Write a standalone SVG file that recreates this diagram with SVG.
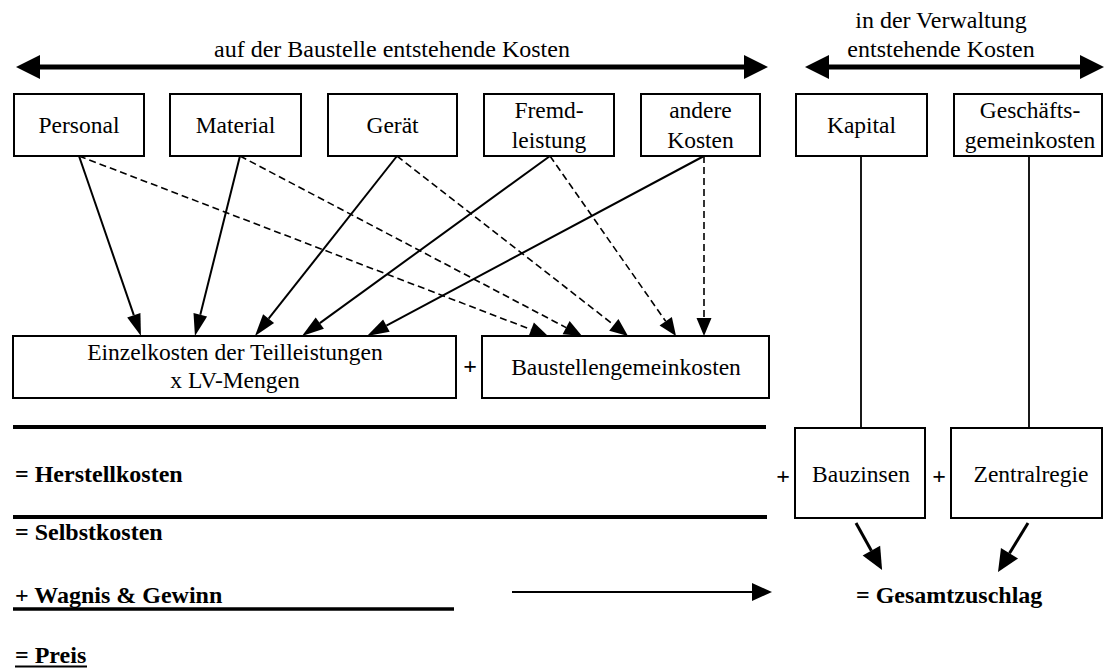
<svg xmlns="http://www.w3.org/2000/svg" width="1104" height="668" viewBox="0 0 1104 668">
  <style>
    text { font-family: "Liberation Serif", "Times New Roman", serif; fill: #000; }
    .lbl { font-size: 23.5px; text-anchor: middle; }
    .hdr { font-size: 24px; text-anchor: middle; }
    .sum { font-size: 24px; font-weight: bold; }
    .plus { font-size: 24px; font-weight: bold; text-anchor: middle; }
    .box { fill: #fff; stroke: #000; stroke-width: 2; }
    .solid { fill: none; stroke: #000; stroke-width: 2; marker-end: url(#head); }
    .dash { fill: none; stroke: #000; stroke-width: 1.6; stroke-dasharray: 7 4; marker-end: url(#headSmall); }
    .link { fill: none; stroke: #000; stroke-width: 1.8; }
    .rule { stroke: #000; stroke-width: 4; }
    .span { stroke: #000; stroke-width: 5; marker-start: url(#bigStart); marker-end: url(#big); }
    .bold-arrow { fill: none; stroke: #000; stroke-width: 3; marker-end: url(#heavy); }
  </style>
  <defs>
    <!-- arrowheads: the base sits on the line end, the tip points forward -->
    <marker id="head" markerUnits="userSpaceOnUse" orient="auto" refX="0" refY="0" overflow="visible">
      <path d="M0,-7 L22,0 L0,7 Z" fill="#000"/>
    </marker>
    <marker id="headSmall" markerUnits="userSpaceOnUse" orient="auto" refX="0" refY="0" overflow="visible">
      <path d="M0,-7.5 L18,0 L0,7.5 Z" fill="#000"/>
    </marker>
    <marker id="heavy" markerUnits="userSpaceOnUse" orient="auto" refX="0" refY="0" overflow="visible">
      <path d="M0,-10 L22,0 L0,10 Z" fill="#000"/>
    </marker>
    <marker id="big" markerUnits="userSpaceOnUse" orient="auto" refX="0" refY="0" overflow="visible">
      <path d="M0,-12 L24,0 L0,12 Z" fill="#000"/>
    </marker>
    <marker id="bigStart" markerUnits="userSpaceOnUse" orient="auto-start-reverse" refX="0" refY="0" overflow="visible">
      <path d="M0,-12 L24,0 L0,12 Z" fill="#000"/>
    </marker>
    <marker id="mid" markerUnits="userSpaceOnUse" orient="auto" refX="0" refY="0" overflow="visible">
      <path d="M0,-9 L20,0 L0,9 Z" fill="#000"/>
    </marker>
  </defs>

  <rect width="1104" height="668" fill="#fff"/>

  <!-- range headings -->
  <g id="range-site">
    <text class="hdr" x="392" y="57">auf der Baustelle entstehende Kosten</text>
    <line class="span" x1="40" y1="67" x2="744" y2="67"/>
  </g>
  <g id="range-admin">
    <text class="hdr" x="941" y="28">in der Verwaltung</text>
    <text class="hdr" x="941" y="57">entstehende Kosten</text>
    <line class="span" x1="829" y1="67" x2="1080" y2="67"/>
  </g>

  <!-- cost types -->
  <g id="personal">
    <rect class="box" x="14" y="94" width="130" height="62"/>
    <text class="lbl" x="79" y="133">Personal</text>
  </g>
  <g id="material">
    <rect class="box" x="170" y="94" width="131" height="62"/>
    <text class="lbl" x="235.5" y="133">Material</text>
  </g>
  <g id="geraet">
    <rect class="box" x="328" y="94" width="129" height="62"/>
    <text class="lbl" x="392.5" y="133">Gerät</text>
  </g>
  <g id="fremdleistung">
    <rect class="box" x="484" y="94" width="130" height="62"/>
    <text class="lbl" x="549" y="118">Fremd-</text>
    <text class="lbl" x="549" y="148">leistung</text>
  </g>
  <g id="andere-kosten">
    <rect class="box" x="641" y="94" width="119" height="62"/>
    <text class="lbl" x="700.5" y="118">andere</text>
    <text class="lbl" x="700.5" y="148">Kosten</text>
  </g>
  <g id="kapital">
    <rect class="box" x="796" y="94" width="131" height="62"/>
    <text class="lbl" x="861.5" y="133">Kapital</text>
  </g>
  <g id="geschaeftsgemeinkosten">
    <rect class="box" x="954" y="94" width="148" height="62"/>
    <text class="lbl" x="1030" y="118">Geschäfts-</text>
    <text class="lbl" x="1030" y="148">gemeinkosten</text>
  </g>

  <!-- cost aggregates -->
  <g id="einzelkosten">
    <rect class="box" x="13" y="336" width="443" height="62"/>
    <text class="lbl" x="235" y="360">Einzelkosten der Teilleistungen</text>
    <text class="lbl" x="235" y="388">x LV-Mengen</text>
  </g>
  <text class="plus" x="470" y="374">+</text>
  <g id="baustellengemeinkosten">
    <rect class="box" x="482" y="336" width="287" height="62"/>
    <text class="lbl" x="626" y="375">Baustellengemeinkosten</text>
  </g>

  <text class="plus" x="783" y="484">+</text>
  <g id="bauzinsen">
    <rect class="box" x="795" y="428" width="130" height="90"/>
    <text class="lbl" x="861" y="482">Bauzinsen</text>
  </g>
  <text class="plus" x="939" y="484">+</text>
  <g id="zentralregie">
    <rect class="box" x="951" y="428" width="151" height="90"/>
    <text class="lbl" x="1031" y="482">Zentralregie</text>
  </g>

  <!-- calculation ladder -->
  <g id="herstellkosten">
    <line class="rule" x1="13" y1="427" x2="766" y2="427"/>
    <text class="sum" x="15" y="482">= Herstellkosten</text>
  </g>
  <g id="selbstkosten">
    <line class="rule" x1="13" y1="517" x2="767" y2="517"/>
    <text class="sum" x="15" y="540">= Selbstkosten</text>
  </g>
  <g id="wagnis-gewinn">
    <text class="sum" x="15" y="603">+ Wagnis &amp; Gewinn</text>
    <line stroke="#000" stroke-width="3.5" x1="13" y1="609" x2="454" y2="609"/>
  </g>
  <g id="preis">
    <text class="sum" x="15" y="663">= Preis</text>
    <line stroke="#000" stroke-width="2" x1="15" y1="666.5" x2="87" y2="666.5"/>
  </g>
  <g id="gesamtzuschlag">
    <text class="sum" x="856" y="603">= Gesamtzuschlag</text>
  </g>

  <!-- connectors -->
  <g id="connectors">
    <!-- direct costs into Einzelkosten -->
    <line class="solid" x1="79" y1="156" x2="133.8" y2="315.2"/>
    <line class="solid" x1="240" y1="156" x2="200.3" y2="314.7"/>
    <line class="solid" x1="397" y1="156" x2="268.6" y2="318.7"/>
    <line class="solid" x1="550" y1="156" x2="319.8" y2="323.1"/>
    <line class="solid" x1="704" y1="156" x2="386.4" y2="325.6"/>
    <!-- overhead shares into Baustellengemeinkosten -->
    <line class="dash" x1="79" y1="156" x2="531.2" y2="329.6"/>
    <line class="dash" x1="240" y1="156" x2="566.1" y2="327.6"/>
    <line class="dash" x1="397" y1="156" x2="613.8" y2="324.9"/>
    <line class="dash" x1="550" y1="156" x2="665.7" y2="321.3"/>
    <line class="dash" x1="704" y1="156" x2="704" y2="318"/>
    <!-- administration costs -->
    <line class="link" x1="861" y1="156" x2="861" y2="428"/>
    <line class="link" x1="1029" y1="156" x2="1029" y2="428"/>
    <line class="bold-arrow" x1="856" y1="523" x2="871.4" y2="550.7"/>
    <line class="bold-arrow" x1="1028" y1="523" x2="1009.5" y2="553.3"/>
    <!-- Wagnis & Gewinn taken from the surcharge -->
    <line stroke="#000" stroke-width="2" marker-end="url(#mid)" x1="512" y1="592" x2="752" y2="592"/>
  </g>
</svg>
